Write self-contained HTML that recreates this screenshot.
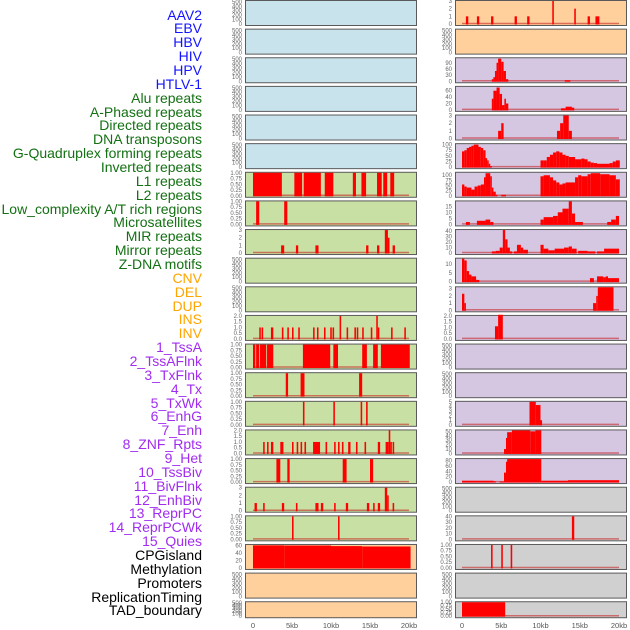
<!DOCTYPE html>
<html><head><meta charset="utf-8">
<style>
html,body{margin:0;padding:0;background:#fff;}
#wrap{position:relative;width:630px;height:630px;overflow:hidden;}
.lab{position:absolute;right:428px;font-family:"Liberation Sans",sans-serif;font-size:14px;line-height:14px;white-space:nowrap;text-align:right;}
svg{position:absolute;left:0;top:0;}
</style></head>
<body>
<div id="wrap">
<svg id="chart" width="630" height="630"></svg>
</div>
<script>
// ---- row labels ----
const labelNames = ["AAV2","EBV","HBV","HIV","HPV","HTLV-1","Alu repeats","A-Phased repeats","Directed repeats","DNA transposons","G-Quadruplex forming repeats","Inverted repeats","L1 repeats","L2 repeats","Low_complexity A/T rich regions","Microsatellites","MIR repeats","Mirror repeats","Z-DNA motifs","CNV","DEL","DUP","INS","INV","1_TssA","2_TssAFlnk","3_TxFlnk","4_Tx","5_TxWk","6_EnhG","7_Enh","8_ZNF_Rpts","9_Het","10_TssBiv","11_BivFlnk","12_EnhBiv","13_ReprPC","14_ReprPCWk","15_Quies","CPGisland","Methylation","Promoters","ReplicationTiming","TAD_boundary"];
const labelGroups = [6,13,5,15,5];
const groupColors = ["#1414ff","#137013","#ffa500","#a12cf0","#000000"];

// ---- tick sets ----
const T500 = [0,100,200,300,400,500];
const T1 = [0,0.25,0.5,0.75,1];
const T2 = [0,0.5,1,1.5,2];
const T3 = [0,1,2,3];
const xTicks = [0,5,10,15,20];
const xTickLabels = ["0","5kb","10kb","15kb","20kb"];

// ---- left column data [startKb,endKb,value] ----
const L6 = [[0,3.7,1],[5.3,6.3,1],[6.5,8.7,1],[9.2,10.3,1],[12.8,13.2,1],[13.9,14.5,1],[15.9,16.5,1],[16.7,17.2,1],[17.6,18.1,1]];
const L7 = [[0.4,0.8,1],[4.0,4.4,1]];
const L8 = [[3.6,4.0,1],[5.5,5.8,1],[8.0,8.4,1],[14.5,14.8,1],[15.9,16.2,1],[16.9,17.3,3],[17.3,17.5,2],[17.9,18.2,1]];
const L11 = [[0.8,1.0,1],[1.1,1.3,1],[2.3,2.6,1],[3.7,3.9,1],[4.4,4.6,1],[5.0,5.2,1],[5.8,6.0,1],[7.7,7.9,1],[8.2,8.4,1],[9.1,9.3,1],[9.9,10.1,1],[10.2,10.4,1],[11.1,11.3,2],[12.0,12.2,1],[13.0,13.2,1],[13.3,13.5,1],[14.0,14.2,1],[15.1,15.3,1],[15.8,16.0,2],[16.0,16.2,1],[17.7,17.9,1],[19.4,19.6,1]];
const L12 = [[0,0.3,1],[0.4,0.8,1],[0.9,1.7,1],[1.8,2.6,1],[6.4,9.9,1],[10.3,10.9,1],[14.0,14.6,1],[15.4,16.0,1],[16.4,20.1,1]];
const L13 = [[4.2,4.5,1],[6.1,6.6,1],[13.6,14.0,1]];
const L14 = [[6.4,6.6,1],[10.3,10.5,1],[13.8,14.0,1],[14.5,14.7,1]];
const L15 = [[1.3,1.5,1],[1.8,2.0,1],[2.3,2.6,1],[3.5,3.9,1],[5.0,5.2,1],[5.6,5.8,1],[6.1,6.3,1],[6.6,6.8,1],[7.7,8.6,1],[9.3,9.5,1],[10.4,10.6,1],[10.9,11.1,1],[11.4,11.6,1],[12.2,12.5,1],[13.2,13.4,1],[14.3,14.5,1],[16.0,16.3,1],[17.0,17.4,1],[17.4,17.6,2],[17.6,17.8,1],[17.9,18.1,1]];
const L16 = [[3.0,3.5,1],[4.4,4.7,1],[11.5,12.0,1],[15.0,15.4,1]];
const L17 = [[0.2,0.5,1],[1.3,1.5,1],[3.7,4.0,1],[5.5,5.7,1],[8.0,8.4,1],[8.7,9.0,1],[10.4,10.6,1],[11.9,12.2,1],[14.6,14.9,1],[15.4,15.6,1],[16.0,16.3,1],[16.9,17.2,3],[17.2,17.4,2],[17.9,18.1,1]];
const L18 = [[5.0,5.2,1],[10.9,11.1,1]];
const L19 = [[0,4.0,60],[4.0,10.0,59.5],[10.0,14.0,58],[14.0,20.2,57]];

// ---- right column data ----
const R0 = [[0.5,0.8,1],[1.9,2.2,1],[3.7,4.0,1],[6.7,7.0,1],[8.3,8.6,1],[11.5,11.7,3],[14.3,14.5,2],[16.0,16.3,1],[17.0,17.5,1]];
const R2 = [[3.8,4.0,10],[4.0,4.2,20],[4.2,4.4,50],[4.4,4.6,90],[4.6,5.0,110],[5.0,5.3,95],[5.3,5.6,50],[5.6,5.9,10],[13.1,13.8,5]];
const R3 = [[3.8,4.0,35],[4.0,4.4,60],[4.4,4.8,70],[4.8,5.1,50],[5.1,5.4,15],[5.4,5.6,35],[5.6,5.9,20],[12.6,13.2,5],[13.2,14.0,10],[14.0,14.3,7]];
const R4 = [[4.6,5.0,1],[5.0,5.3,2],[12.1,12.5,1],[12.5,12.9,2],[12.9,13.6,3],[13.6,14.0,1]];
const R5 = [[0,0.3,70],[0.3,0.6,75],[0.6,0.9,85],[0.9,1.2,90],[1.2,1.5,95],[1.5,2.1,100],[2.1,2.4,90],[2.4,2.7,85],[2.7,3.0,75],[3.0,3.2,40],[3.2,3.4,30],[3.4,3.6,15],[3.6,3.8,5],
 [10.0,10.4,30],[10.4,10.8,30],[10.8,11.2,45],[11.2,11.6,55],[11.6,12.0,65],[12.0,12.4,70],[12.4,12.8,65],[12.8,13.2,55],[13.2,13.6,50],[13.6,14.4,45],[14.4,15.2,35],[15.2,15.6,38],[15.6,16.0,35],[16.0,16.4,25],[16.4,16.8,20],[16.8,17.2,18],[17.2,18.8,15],[18.8,19.2,18],[19.2,19.6,25],[19.6,20.1,30]];
const R6 = [[0,0.3,55],[0.3,0.6,45],[0.6,1.2,40],[1.2,1.6,30],[1.6,2.0,45],[2.0,2.4,50],[2.4,2.8,55],[2.8,3.0,90],[3.0,3.6,110],[3.6,3.8,95],[3.8,4.0,40],[4.0,4.3,20],[4.3,4.5,5],[5.0,5.6,5],
 [10.0,10.4,95],[10.4,11.2,100],[11.2,11.6,90],[11.6,12.0,75],[12.0,12.4,65],[12.4,12.8,55],[12.8,13.2,60],[13.2,14.4,65],[14.4,14.8,90],[14.8,15.2,100],[15.2,16.0,95],[16.0,16.4,105],[16.4,17.6,110],[17.6,18.8,105],[18.8,19.6,100],[19.6,20.1,80]];
const R7 = [[0.5,1.0,2],[1.9,3.0,3],[3.0,3.6,4],[3.6,4.0,2],[10.0,10.4,4],[10.4,11.6,6],[11.6,12.2,7],[12.2,12.8,10],[12.8,13.6,13],[13.6,14.0,19],[14.0,14.4,9],[14.4,15.4,2],[18.5,19.0,2],[19.0,19.6,4],[19.6,20.0,7]];
const R8 = [[3.8,4.3,3],[4.3,4.8,4],[4.8,5.2,10],[5.2,5.5,42],[5.5,5.8,25],[5.8,6.1,10],[6.1,6.4,3],[6.6,7.0,3],[7.0,7.5,15],[7.5,7.8,10],[7.8,8.4,6],[10.0,10.4,15],[10.4,11.0,8],[11.0,11.8,5],[11.8,13.0,8],[13.0,13.6,10],[13.6,14.0,12],[14.0,14.6,8],[14.8,16.0,4],[16.0,17.0,3],[17.2,18.1,3],[18.1,20.0,8]];
const R9 = [[0,0.3,13],[0.3,0.6,12],[0.6,0.9,6],[0.9,1.2,4],[1.2,1.8,3],[1.8,2.2,1],[16.3,16.8,2],[17.2,18.0,3],[18.0,18.3,2.5],[18.3,18.6,3],[18.6,20.0,2]];
const R10 = [[0,0.3,2.3],[0.3,0.5,1],[16.7,17.1,1],[17.1,17.3,2],[17.3,19.3,3.2]];
const R11 = [[4.2,4.6,1.1],[4.6,5.2,2.1]];
const R14 = [[8.6,9.4,5],[9.4,10.0,4.3],[10.0,10.2,1]];
const R15 = [[5.35,5.6,10],[5.6,5.75,35],[5.75,6.35,48],[6.35,8.7,52],[8.7,9.35,50],[9.35,10.1,52]];
const R16 = [[0,4.0,5],[4.0,4.3,3],[4.8,5.35,2],[5.35,5.6,35],[5.6,5.75,75],[5.75,10.1,85],[10.1,13.5,5],[13.5,20.0,7]];
const R18 = [[14.0,14.3,40]];
const R19 = [[3.7,3.9,1],[5.0,5.2,1],[6.2,6.4,1]];
const R21 = [[0,5.5,1]];

const BLUE="#c8e3eb", GREEN="#c8e0a3", ORANGE="#ffcf9c", PURPLE="#d5c6e2", GRAY="#d0d0d0";
// [data, ymax, ticks, decimals, bg]
const leftRows = [
 [[],520,T500,0,BLUE],[[],520,T500,0,BLUE],[[],520,T500,0,BLUE],[[],520,T500,0,BLUE],[[],520,T500,0,BLUE],[[],520,T500,0,BLUE],
 [L6,1,T1,2,GREEN],[L7,1,T1,2,GREEN],[L8,3,T3,0,GREEN],[[],520,T500,0,GREEN],[[],520,T500,0,GREEN],
 [L11,2,T2,1,GREEN],[L12,1,T1,2,GREEN],[L13,1,T1,2,GREEN],[L14,1,T1,2,GREEN],[L15,2,T2,1,GREEN],[L16,1,T1,2,GREEN],[L17,3,T3,0,GREEN],[L18,1,T1,2,GREEN],
 [L19,61,[0,20,40,60],0,ORANGE],[[],520,T500,0,ORANGE],[[],520,T500,0,ORANGE]
];
const rightRows = [
 [R0,3,T3,0,ORANGE],[[],520,T500,0,ORANGE],
 [R2,112,[0,30,60,90],0,PURPLE],[R3,72,[0,20,40,60],0,PURPLE],[R4,3,T3,0,PURPLE],[R5,102,[0,25,50,75,100],0,PURPLE],[R6,112,[0,25,50,75,100],0,PURPLE],
 [R7,19,[0,5,10,15],0,PURPLE],[R8,42,[0,10,20,30,40],0,PURPLE],[R9,13,[0,5,10],0,PURPLE],[R10,3.2,T3,0,PURPLE],[R11,2,T2,1,PURPLE],
 [[],520,T500,0,PURPLE],[[],520,T500,0,PURPLE],[R14,5,[0,1,2,3,4,5],0,PURPLE],[R15,52,[0,10,20,30,40,50],0,PURPLE],[R16,85,[0,20,40,60,80],0,PURPLE],
 [[],520,T500,0,GRAY],[R18,40,[0,10,20,30,40],0,GRAY],[R19,1,T1,2,GRAY],[[],520,T500,0,GRAY],[R21,1,T1,2,GRAY]
];

const NS="http://www.w3.org/2000/svg";
const svg=document.getElementById('chart');
function mk(tag,attrs,parent){const e=document.createElementNS(NS,tag);for(const k in attrs)e.setAttribute(k,attrs[k]);(parent||svg).appendChild(e);return e;}

// labels
const wrap=document.getElementById('wrap');
let li=0;
labelGroups.forEach((n,g)=>{for(let j=0;j<n;j++){
  const d=document.createElement('div');
  d.className='lab';
  d.style.color=groupColors[g];
  d.style.top=(15+li*13.86-7.5)+'px';
  d.textContent=labelNames[li];
  
  
  wrap.appendChild(d);li++;}});

function rowTop(i){return i*28.63;}
function rowH(i){return i===21?16:25;}

function drawColumn(rows,px0,px1,x0,kbScale,col){
  rows.forEach((r,i)=>{
    const [data,ymax,ticks,dec,bg]=r;
    const top=rowTop(i),h=rowH(i);
    const g=mk('g',{});
    
    
    mk('rect',{x:px0+0.5,y:top+0.5,width:px1-px0,height:h,fill:bg,stroke:'#5a5a5a','stroke-width':1},g);
    const yS=v=>top+h-1-(v/ymax)*(h-2);
    const xS=kb=>x0+kb*kbScale;
    if(data.length){
      mk('line',{x1:xS(0),x2:xS(20),y1:yS(0)-0.5,y2:yS(0)-0.5,stroke:'rgba(200,40,40,0.6)','stroke-width':1.5},g);
    }
    data.forEach(s=>{
      const b=mk('rect',{x:xS(s[0]),y:yS(s[2]),width:Math.max(1.5,xS(s[1])-xS(s[0])),height:yS(0)-yS(s[2])+0.5,fill:'#ff0000'},g);
      
      
    });
    ticks.forEach(t=>{
      const tx=mk('text',{x:px0-3,y:yS(t)+2,'font-size':6,'font-family':'Liberation Sans, sans-serif',fill:'#666','text-anchor':'end'},g);
      tx.textContent=t.toFixed(dec);
      
      
    });
  });
  xTicks.forEach((t,k)=>{
    const tx=mk('text',{x:x0+t*kbScale,y:628,'font-size':7.5,'font-family':'Liberation Sans, sans-serif',fill:'#555','text-anchor':'middle'});
    tx.textContent=xTickLabels[k];
    
    
  });
}
drawColumn(leftRows,245,416,253,7.8,'left');
drawColumn(rightRows,455,626,462,7.85,'right');
</script>
</body></html>
